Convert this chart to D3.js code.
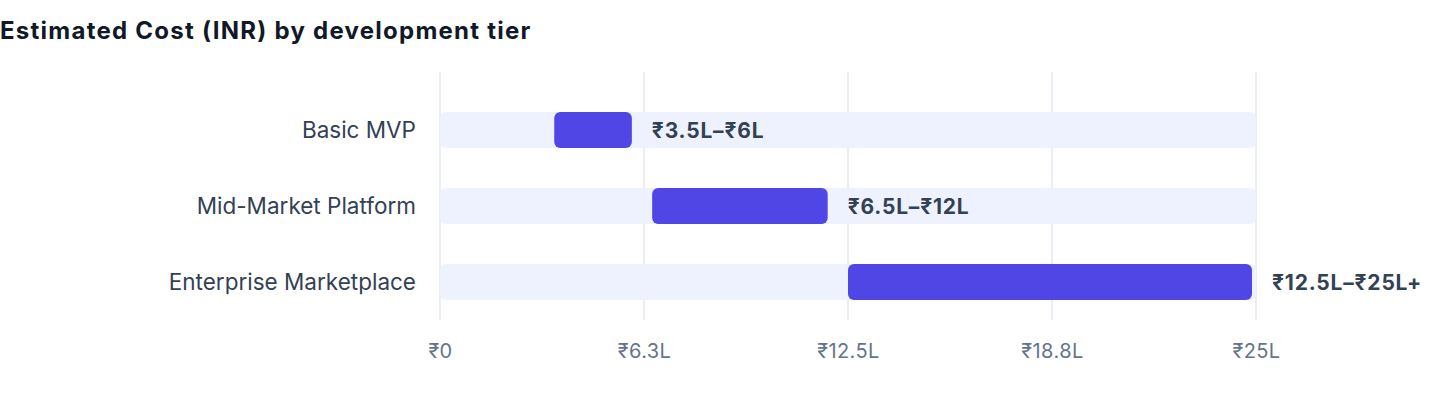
<!DOCTYPE html>
<html>
<head>
<meta charset="utf-8">
<script src="https://cdn.jsdelivr.net/npm/d3@7"></script>
<style>
  body { margin: 0; background: #fff; }
  svg text { font-family: Inter, "Liberation Sans", Arial, sans-serif; }
</style>
</head>
<body>
<svg id="chart" width="1440" height="408"></svg>
<script>
// data
let tiers = ["Basic MVP", "Mid-Market Platform", "Enterprise Marketplace"];
let lowValues = [3.5, 6.5, 12.5];
let highValues = [6, 12, 25];
let rangeLabels = ["₹3.5L–₹6L", "₹6.5L–₹12L", "₹12.5L–₹25L+"];
let tickValues = [0, 6.25, 12.5, 18.75, 25];
let tickLabels = ["₹0", "₹6.3L", "₹12.5L", "₹18.8L", "₹25L"];

let chart = d3.select("#chart");
let plotLeft = 440, plotRight = 1256, plotTop = 72, plotBottom = 320;

//title
chart.append("text")
    .attr("x", 0)
    .attr("y", 39)
    .attr("font-size", "24px")
    .attr("font-weight", "bold")
    .attr("letter-spacing", "1.25px")
    .attr("fill", "#111827")
    .text("Estimated Cost (INR) by development tier");

//scales
let x = d3.scaleLinear()
    .domain([0, 25])
    .range([plotLeft, plotRight]);

let y = d3.scaleBand()
    .domain(tiers)
    .range([plotTop + 10, plotBottom + 10])
    .paddingInner(0.526)
    .paddingOuter(0.395);

//grid lines
chart.append("g").selectAll("line")
    .data(tickValues)
    .enter()
    .append("line")
        .attr("x1", function(d) { return x(d); })
        .attr("x2", function(d) { return x(d); })
        .attr("y1", plotTop)
        .attr("y2", plotBottom)
        .attr("stroke", "#e2e8f0")
        .attr("stroke-width", 1.5);

//x axis labels
let xAxis = d3.axisBottom(x)
    .tickValues(tickValues)
    .tickFormat(function(d, i) { return tickLabels[i]; })
    .tickSize(0)
    .tickPadding(0);

let ax = chart.append("g")
    .attr("transform", "translate(0," + (plotBottom + 38) + ")")
    .call(xAxis);
ax.select(".domain").remove();
ax.selectAll("text")
    .attr("dy", "0")
    .attr("font-size", "20px")
    .attr("letter-spacing", "0.4px")
    .attr("font-family", null)
    .attr("fill", "#64748b");

let rows = tiers.map(function(t, i) {
    return { tier: t, low: lowValues[i], high: highValues[i], label: rangeLabels[i] };
});

//background tracks
chart.selectAll(".track")
    .data(rows)
    .enter()
    .append("rect")
        .attr("class", "track")
        .attr("x", x(0))
        .attr("y", function(d) { return y(d.tier); })
        .attr("width", x(25) - x(0))
        .attr("height", y.bandwidth())
        .attr("rx", 6)
        .attr("fill", "#eef2ff");

//range bars
chart.selectAll(".range")
    .data(rows)
    .enter()
    .append("rect")
        .attr("class", "range")
        .attr("x", function(d) { return x(d.low); })
        .attr("y", function(d) { return y(d.tier); })
        .attr("width", function(d) { return x(d.high) - x(d.low) - 4; })
        .attr("height", y.bandwidth())
        .attr("rx", 6)
        .attr("fill", "#4f46e5");

//value labels
chart.selectAll(".vlabel")
    .data(rows)
    .enter()
    .append("text")
        .attr("x", function(d) { return x(d.high) + 16; })
        .attr("y", function(d) { return y(d.tier) + y.bandwidth() / 2; })
        .attr("dy", "0.36em")
        .attr("font-size", "21px")
        .attr("font-weight", "bold")
        .attr("letter-spacing", "0.8px")
        .attr("fill", "#334155")
        .text(function(d) { return d.label; });

//category labels
chart.selectAll(".clabel")
    .data(rows)
    .enter()
    .append("text")
        .attr("x", plotLeft - 24)
        .attr("y", function(d) { return y(d.tier) + y.bandwidth() / 2; })
        .attr("dy", "0.36em")
        .attr("text-anchor", "end")
        .attr("font-size", "22.5px")
        .attr("fill", "#334155")
        .text(function(d) { return d.tier; });
</script>
</body>
</html>
